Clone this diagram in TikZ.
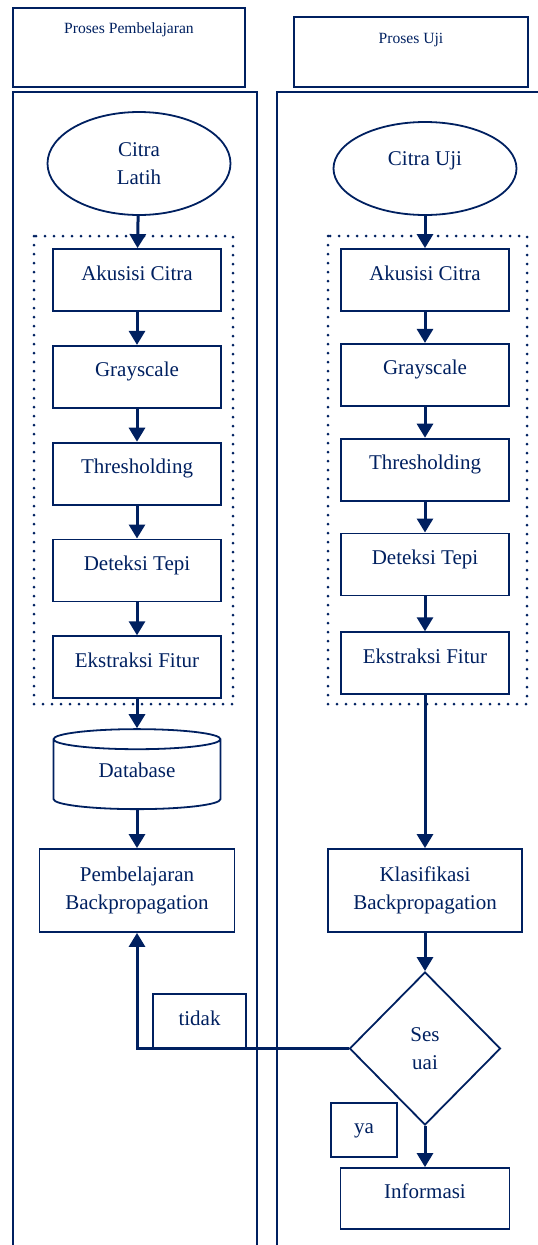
\documentclass[tikz,border=0pt]{standalone}
\usepackage{fontspec}
\setmainfont{Liberation Serif}
\usetikzlibrary{positioning,shapes.geometric,arrows.meta}
\definecolor{navy}{HTML}{002060}
\begin{document}
\begin{tikzpicture}[
        x=1pt, y=-1pt,
        every node/.style={text=navy, draw=navy, font=\fontsize{21}{28}\selectfont, align=center},
        proses/.style={rectangle, line width=1.8pt, minimum width=168pt, minimum height=62pt, text height=14pt, text depth=14pt},
        proses2/.style={rectangle, line width=1.8pt, minimum width=195pt, minimum height=83pt},
        mulai/.style={ellipse, line width=1.8pt, minimum width=183pt},
        basisdata/.style={cylinder, shape border rotate=90, aspect=0.24, line width=1.8pt, minimum width=167pt, minimum height=80pt, text height=14pt, text depth=12pt},
        keputusan/.style={diamond, line width=1.8pt, minimum width=151pt, minimum height=153pt},
        judul/.style={rectangle, line width=1.8pt, font=\fontsize{15.6}{18}\selectfont, text height=11pt},
        ket/.style={rectangle, line width=1.4pt, text height=14pt},
        arrow/.style={line width=3pt, draw=navy, -{Triangle[length=14pt,width=16pt]}},
        garis/.style={line width=1.8pt, draw=navy},
        kelompok/.style={line width=3pt, draw=navy, dash pattern=on 0pt off 9pt, line cap=round}
    ]
    \useasboundingbox (0,0) rectangle (538,1245);

    % Lajur
    \node[judul, minimum width=232pt, minimum height=79pt, text depth=40pt] (judulL) at (129,47.5) {Proses Pembelajaran};
    \node[judul, minimum width=234pt, minimum height=70pt, text depth=29pt] (judulU) at (411,52) {Proses Uji};
    \draw[garis] (13,1255) -- (13,92) -- (257,92) -- (257,1255);
    \draw[garis] (277,1255) -- (277,92) -- (545,92);

    % Proses pembelajaran
    \node[mulai, minimum height=103pt] (citraL) at (139,163.5) {Citra\\Latih};
    \node[proses] (akuL) at (137,280) {Akusisi Citra};
    \node[proses, below=33pt of akuL] (grayL) {Grayscale};
    \node[proses, below=33pt of grayL] (threshL) {Thresholding};
    \node[proses, below=33pt of threshL] (tepiL) {Deteksi Tepi};
    \node[proses, below=33pt of tepiL] (fiturL) {Ekstraksi Fitur};
    \node[basisdata] (db) at (137,776) {Database};
    \node[proses2] (belajar) at (137,890.5) {Pembelajaran\\Backpropagation};
    \draw[kelompok] (34,236) rectangle (233,704);

    % Proses uji
    \node[mulai, minimum height=93pt, text height=14pt, text depth=21pt] (citraU) at (425,168.5) {Citra Uji};
    \node[proses] (akuU) at (425,280) {Akusisi Citra};
    \node[proses, below=31pt of akuU] (grayU) {Grayscale};
    \node[proses, below=31pt of grayU] (threshU) {Thresholding};
    \node[proses, below=31pt of threshU] (tepiU) {Deteksi Tepi};
    \node[proses, below=35pt of tepiU] (fiturU) {Ekstraksi Fitur};
    \node[proses2, minimum width=194pt] (klasifikasi) at (425,890.5) {Klasifikasi\\Backpropagation};
    \node[keputusan] (sesuai) at (425,1048.5) {Ses\\uai};
    \node[proses, minimum width=169pt, minimum height=61pt] (info) at (425,1198.5) {Informasi};
    \draw[kelompok] (328,236) rectangle (527,704);

    % Keterangan
    \node[ket, minimum width=93pt, minimum height=55pt, text depth=7pt] (tidak) at (199.5,1021.5) {tidak};
    \node[ket, minimum width=66pt, minimum height=54pt, text depth=8pt] (ya) at (364,1130) {ya};

    % Arrows
    \draw[arrow] (citraL) -- (akuL);
    \draw[arrow] (akuL) -- (grayL);
    \draw[arrow] (grayL) -- (threshL);
    \draw[arrow] (threshL) -- (tepiL);
    \draw[arrow] (tepiL) -- (fiturL);
    \draw[arrow] (fiturL) -- (db);
    \draw[arrow] (db) -- (belajar);
    \draw[arrow] (citraU) -- (akuU);
    \draw[arrow] (akuU) -- (grayU);
    \draw[arrow] (grayU) -- (threshU);
    \draw[arrow] (threshU) -- (tepiU);
    \draw[arrow] (tepiU) -- (fiturU);
    \draw[arrow] (fiturU) -- (klasifikasi);
    \draw[arrow] (klasifikasi) -- (sesuai);
    \draw[arrow] (sesuai) -- (info);
    \draw[arrow] (sesuai.west) -| (belajar.south);
\end{tikzpicture}
\end{document}
